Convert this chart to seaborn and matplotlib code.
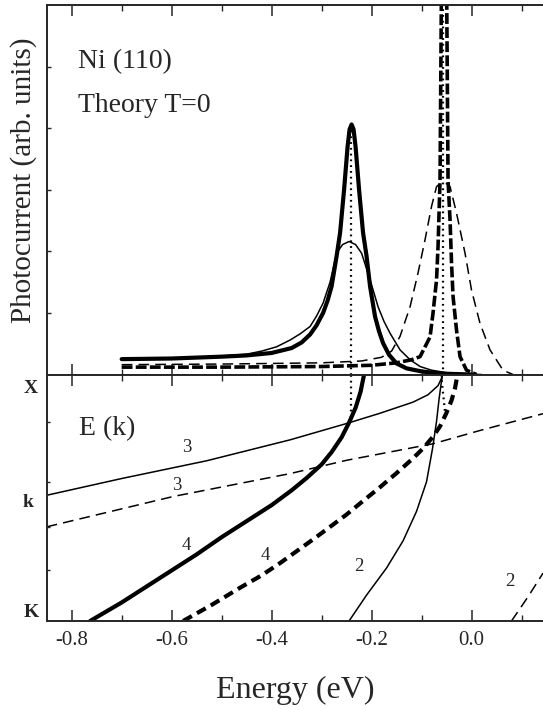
import numpy as np
import pandas as pd
import matplotlib
matplotlib.use("Agg")
import matplotlib.pyplot as plt
import seaborn as sns

# --- upper panel: photocurrent spectra (energy in eV, intensity in arb. units)
thick_solid_e = [-0.70, -0.60, -0.50, -0.45, -0.40, -0.36, -0.34, -0.323, -0.31, -0.297, -0.288, -0.28,
                 -0.27, -0.263, -0.255, -0.248, -0.244, -0.240, -0.236, -0.232, -0.225, -0.217, -0.21,
                 -0.203, -0.193, -0.185, -0.177, -0.165, -0.15, -0.13, -0.10, -0.06, 0.0]
thick_solid_i = [0.25, 0.26, 0.29, 0.31, 0.35, 0.43, 0.52, 0.65, 0.80, 1.0, 1.2, 1.43,
                 1.92, 2.30, 3.0, 3.7, 3.98, 4.06, 3.98, 3.7, 3.0, 2.30, 1.92,
                 1.43, 0.94, 0.70, 0.51, 0.32, 0.18, 0.10, 0.05, 0.015, 0.0]

thin_solid_e = [-0.70, -0.60, -0.50, -0.45, -0.42, -0.39, -0.363, -0.343, -0.323, -0.31, -0.297, -0.283,
                -0.270, -0.258, -0.245, -0.232, -0.220, -0.203, -0.187, -0.175, -0.163, -0.143, -0.123,
                -0.103, -0.08, -0.05, -0.02, 0.02]
thin_solid_i = [0.24, 0.26, 0.30, 0.33, 0.38, 0.45, 0.56, 0.66, 0.78, 0.95, 1.16, 1.50,
                1.97, 2.11, 2.16, 2.11, 1.97, 1.54, 1.10, 0.86, 0.67, 0.40, 0.24,
                0.13, 0.07, 0.03, 0.01, 0.0]

thin_dash_e = [-0.70, -0.50, -0.30, -0.22, -0.18, -0.16, -0.143, -0.123, -0.107, -0.093, -0.080, -0.070,
               -0.063, -0.057, -0.050, -0.043, -0.030, -0.013, 0.000, 0.017, 0.037, 0.063, 0.083]
thin_dash_i = [0.16, 0.17, 0.19, 0.22, 0.28, 0.38, 0.62, 1.10, 1.65, 2.19, 2.73, 3.05,
               3.10, 3.11, 3.10, 3.05, 2.62, 1.97, 1.37, 0.83, 0.40, 0.07, 0.0]

thick_dash_e = [-0.70, -0.50, -0.30, -0.20, -0.15, -0.12, -0.103, -0.083, -0.077, -0.070, -0.067, -0.065,
                -0.063, -0.060, -0.055, -0.050, -0.047, -0.043, -0.040, -0.037, -0.030, -0.023, -0.010, 0.010]
thick_dash_i = [0.12, 0.12, 0.13, 0.15, 0.19, 0.24, 0.29, 0.61, 1.0, 1.54, 2.08, 2.62,
                3.16, 6.5, 9.0, 6.5, 3.16, 2.51, 1.81, 1.27, 0.72, 0.29, 0.07, 0.0]

peak_solid_e = -0.241
peak_solid_i = 4.06
peak_dash_e = -0.057

# --- lower panel: bands E(k), k runs from K (0) to X (1)
band3_solid_e = [-0.85, -0.70, -0.53, -0.363, -0.247, -0.183, -0.117, -0.087, -0.067, -0.060, -0.058]
band3_solid_k = [0.510, 0.578, 0.650, 0.735, 0.803, 0.843, 0.888, 0.918, 0.955, 0.985, 1.0]

band2_solid_e = [-0.058, -0.061, -0.065, -0.070, -0.078, -0.090, -0.110, -0.137, -0.170, -0.210, -0.245]
band2_solid_k = [1.0, 0.96, 0.90, 0.81, 0.70, 0.565, 0.445, 0.325, 0.215, 0.105, 0.0]

band4_solid_e = [-0.763, -0.70, -0.65, -0.60, -0.55, -0.50, -0.45, -0.40, -0.36, -0.33, -0.30, -0.28,
                 -0.26, -0.245, -0.232, -0.222, -0.215]
band4_solid_k = [0.0, 0.075, 0.14, 0.205, 0.27, 0.34, 0.405, 0.47, 0.53, 0.58, 0.635, 0.685,
                 0.745, 0.805, 0.865, 0.93, 1.0]

band3_dash_e = [-0.85, -0.597, -0.363, -0.250, -0.077, 0.017, 0.143]
band3_dash_k = [0.382, 0.505, 0.598, 0.652, 0.719, 0.773, 0.841]

band4_dash_e = [-0.577, -0.52, -0.463, -0.42, -0.383, -0.35, -0.317, -0.283, -0.25, -0.217, -0.183, -0.15,
                -0.117, -0.097, -0.077, -0.063, -0.05, -0.04, -0.033, -0.028]
band4_dash_k = [0.0, 0.065, 0.135, 0.185, 0.235, 0.283, 0.331, 0.382, 0.432, 0.487, 0.543, 0.60,
                0.66, 0.70, 0.748, 0.79, 0.845, 0.895, 0.945, 1.0]

band2_dash_e = [0.080, 0.113, 0.143]
band2_dash_k = [0.0, 0.098, 0.194]

dotted_low_solid_k = 0.81
dotted_low_dash_e = [-0.061, -0.052]
dotted_low_dash_k = [1.0, 0.83]

energy_ticks = [-0.8, -0.6, -0.4, -0.2, 0.0]
energy_labels = ["-0.8", "-0.6", "-0.4", "-0.2", "0.0"]
k_labels = ["K", "k", "X"]

sns.set_style("ticks")
plt.rcParams["font.family"] = ["Liberation Serif", "DejaVu Serif"]
plt.rcParams["axes.unicode_minus"] = False
plt.rcParams["axes.linewidth"] = 1.4

fig = plt.figure(figsize=(5.43, 7.10), dpi=100)
ax_top = fig.add_axes([0.086, 0.4725, 0.914, 0.5205])
ax_low = fig.add_axes([0.086, 0.1254, 0.914, 0.3471])

THIN = 1.1
THICK = 3.0
DOTS = (0, (0.8, 1.8))


def curve(ax, x, y, lw, ls):
    sns.lineplot(x=x, y=y, ax=ax, color="black", lw=lw, linestyle=ls,
                 sort=False, estimator=None, legend=False)


# spectra
curve(ax_top, thin_solid_e, thin_solid_i, THIN, "-")
curve(ax_top, thick_solid_e, thick_solid_i, THICK, "-")
curve(ax_top, thin_dash_e, thin_dash_i, THIN, (0, (7, 4)))
curve(ax_top, thick_dash_e, thick_dash_i, 2.6, (0, (3, 0.9)))
ax_top.plot([peak_solid_e, peak_solid_e], [0, peak_solid_i], color="black", lw=1.6, ls=DOTS)
ax_top.plot([peak_dash_e, peak_dash_e], [0, 6], color="black", lw=1.6, ls=DOTS)

# bands
curve(ax_low, band3_solid_e, band3_solid_k, THIN, "-")
curve(ax_low, band2_solid_e, band2_solid_k, THIN, "-")
curve(ax_low, band4_solid_e, band4_solid_k, THICK, "-")
curve(ax_low, band3_dash_e, band3_dash_k, THIN, (0, (7, 4)))
curve(ax_low, band2_dash_e, band2_dash_k, THIN, (0, (7, 4)))
curve(ax_low, band4_dash_e, band4_dash_k, THICK, (0, (2.4, 1.4)))
ax_low.plot([peak_solid_e, peak_solid_e], [1.0, dotted_low_solid_k], color="black", lw=1.6, ls=DOTS)
ax_low.plot(dotted_low_dash_e, dotted_low_dash_k, color="black", lw=1.6, ls=DOTS)

for ax in (ax_top, ax_low):
    ax.set_xlim(-0.85, 0.143)
    ax.set_xticks(energy_ticks)
    ax.set_xticks(np.arange(-0.8, 0.15, 0.1), minor=True)
    ax.tick_params(axis="x", which="major", direction="in", length=8, width=1.1, top=True, bottom=True)
    ax.tick_params(axis="x", which="minor", direction="in", length=4.5, width=1.0, top=True, bottom=True)
    ax.spines["right"].set_visible(False)
    ax.set_xlabel("")
    ax.set_ylabel("")

ax_top.set_ylim(0, 6)
ax_top.set_yticks([1, 2, 3, 4, 5])
ax_top.tick_params(axis="y", direction="in", length=3, width=1.0, labelleft=False)
ax_top.tick_params(axis="x", labelbottom=False)

ax_low.set_ylim(0, 1)
ax_low.set_yticks([])
ax_low.set_yticks([0.207, 0.383, 0.565, 0.808], minor=True)
ax_low.tick_params(axis="y", which="minor", direction="in", length=2.5, width=1.0)
ax_low.set_xticklabels(energy_labels)
ax_low.tick_params(axis="x", which="major", labelsize=15, pad=7)

# k-point labels on the left of the band panel
for lab, yy, xx in zip(k_labels, [0.036, 0.48, 0.945], [31, 28, 31]):
    ax_low.text(xx / 543, 0.1254 + yy * 0.3471, lab, transform=fig.transFigure,
                ha="center", va="center", fontsize=14, fontweight="bold")

ax_top.text(-0.787, 5.08, "Ni (110)", fontsize=20, va="center")
ax_top.text(-0.787, 4.37, "Theory T=0", fontsize=20, va="center")

ax_low.text(-0.785, 0.78, "E (k)", fontsize=20, va="center")
band_text = [("3", -0.57, 0.705), ("3", -0.59, 0.55), ("4", -0.57, 0.308),
             ("4", -0.413, 0.267), ("2", -0.225, 0.22), ("2", 0.077, 0.159)]
for t, xx, yy in band_text:
    ax_low.text(xx, yy, t, fontsize=13.5, ha="center", va="center")

fig.text(24 / 543, 1 - 180 / 710, "Photocurrent (arb. units)", rotation=90,
         ha="center", va="center", fontsize=21)
fig.text(295 / 543, 1 - 690 / 710, "Energy (eV)", ha="center", va="center", fontsize=23)

fig.savefig("out.png", dpi=100)
